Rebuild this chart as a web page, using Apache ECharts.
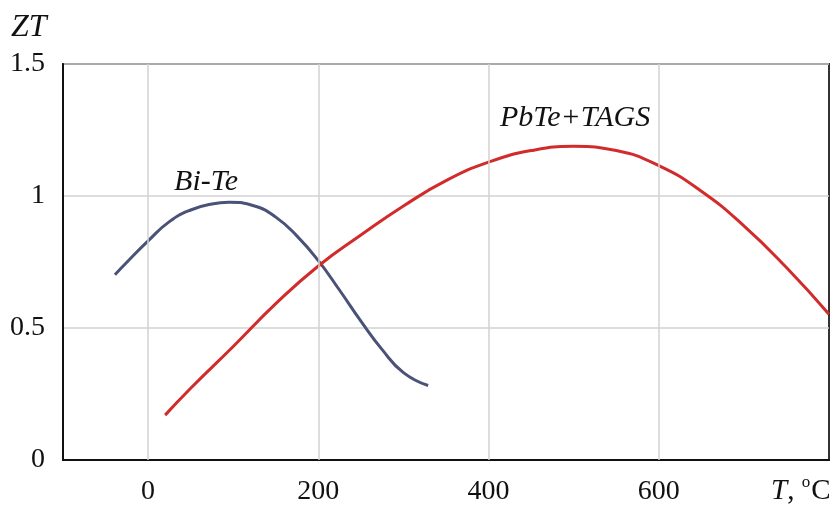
<!DOCTYPE html>
<html>
<head>
<meta charset="utf-8">
<script src="https://cdn.jsdelivr.net/npm/echarts@6/dist/echarts.min.js"></script>
<style>html,body{margin:0;padding:0;background:#fff;}#c{width:832px;height:506px;}</style>
</head>
<body>
<div id="c"></div>
<script>
// Data
var biTeT  = [-39, -25, 0, 25, 50, 75, 95, 125, 150, 175, 200, 225, 250, 275, 300, 329];
var biTeZT = [0.702, 0.749, 0.830, 0.903, 0.947, 0.970, 0.976, 0.962, 0.920, 0.848, 0.755, 0.643, 0.526, 0.418, 0.331, 0.282];
var pbT    = [20, 50, 100, 150, 200, 250, 300, 350, 400, 450, 500, 550, 600, 650, 700, 750, 800];
var pbZT   = [0.17, 0.272, 0.430, 0.592, 0.735, 0.852, 0.962, 1.058, 1.128, 1.172, 1.188, 1.172, 1.115, 1.018, 0.887, 0.729, 0.552];
var xTickLabels = [0, 200, 400, 600];
var yTickLabels = [0, 0.5, 1, 1.5];
var seriesNames = ['Bi-Te', 'PbTe+TAGS'];

function zip(a, b) { return a.map(function (v, i) { return [v, b[i]]; }); }

var serif = '"Liberation Serif", "DejaVu Serif", serif';
var chart = echarts.init(document.getElementById('c'));
chart.setOption({
  animation: false,
  backgroundColor: '#fff',
  grid: { left: 63, right: 2, top: 64, bottom: 44, show: true, borderColor: '#333', borderWidth: 2, backgroundColor: 'transparent' },
  xAxis: {
    type: 'value', min: -100, max: 800, interval: 100,
    axisLine: { show: true, onZero: false, lineStyle: { color: '#111', width: 2 } },
    axisTick: { show: false },
    splitLine: { show: false },
    axisLabel: {
      color: '#111', fontFamily: serif, fontSize: 28, margin: 18,
      formatter: function (v) { return xTickLabels.indexOf(v) >= 0 ? String(v) : ''; }
    }
  },
  yAxis: {
    type: 'value', min: 0, max: 1.5, interval: 0.5,
    axisLine: { show: true, onZero: false, lineStyle: { color: '#111', width: 2 } },
    axisTick: { show: false },
    splitLine: { show: true, lineStyle: { color: '#d2d2d2', width: 1.5 } },
    axisLabel: {
      color: '#111', fontFamily: serif, fontSize: 28, margin: 18, padding: [8, 0, 0, 0],
      formatter: function (v) { return yTickLabels.indexOf(v) >= 0 ? String(v) : ''; }
    }
  },
  series: [
    {
      type: 'line', data: [], z: 1, silent: true,
      markLine: {
        silent: true, symbol: 'none', animation: false,
        label: { show: false },
        lineStyle: { color: '#d2d2d2', width: 1.5, type: 'solid' },
        data: xTickLabels.map(function (v) { return { xAxis: v }; })
      }
    },
    {
      name: seriesNames[0], type: 'line', smooth: 0.5, showSymbol: false, z: 3,
      lineStyle: { color: '#4a5278', width: 3 },
      data: zip(biTeT, biTeZT)
    },
    {
      name: seriesNames[1], type: 'line', smooth: 0.5, showSymbol: false, z: 3,
      lineStyle: { color: '#d12b2b', width: 3 },
      data: zip(pbT, pbZT)
    }
  ],
  graphic: [
    { type: 'text', left: 11, top: 12, style: { text: 'ZT', font: 'italic 32px ' + serif, fill: '#111' } },
    { type: 'text', x: 206, y: 182, style: { text: seriesNames[0], font: 'italic 30px ' + serif, fill: '#111', align: 'center', verticalAlign: 'middle' } },
    { type: 'text', x: 500, y: 118, style: { text: seriesNames[1], font: 'italic 30px ' + serif, fill: '#111', align: 'left', verticalAlign: 'middle' } },
    { type: 'text', x: 771, y: 491, style: {
        text: '{i|T}{n|, }{s|o}{n|C}', verticalAlign: 'middle', fill: '#111',
        rich: {
          i: { fontFamily: serif, fontStyle: 'italic', fontSize: 29, fill: '#111' },
          n: { fontFamily: serif, fontSize: 29, fill: '#111' },
          s: { fontFamily: serif, fontSize: 17, fill: '#111', padding: [0, 1, 16, 0] }
        }
    } }
  ]
});
</script>
</body>
</html>
